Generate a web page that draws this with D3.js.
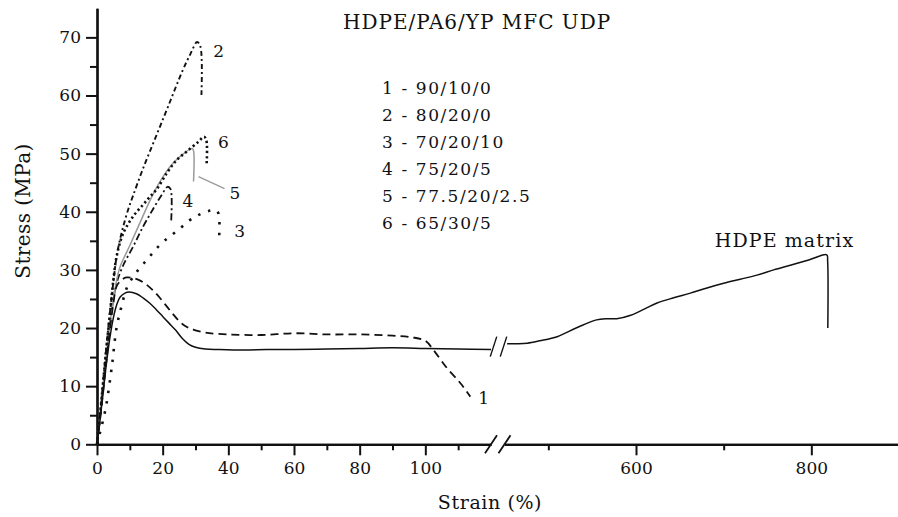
<!DOCTYPE html>
<html>
<head>
<meta charset="utf-8">
<script src="https://cdn.jsdelivr.net/npm/d3@7"></script>
<style>
  body { margin: 0; background: #fff; }
  svg { display: block; font-family: "DejaVu Serif", serif; }
</style>
</head>
<body>
<svg id="chart" width="898" height="517"></svg>
<script>
// Stress–strain curves, each point is [strain %, stress MPa]
const hdpeMatrixLow = [[0,0],[1,4.6],[2,9.6],[3,14.5],[4,18.6],[5,21.8],[6,24],[7,25.3],[8.5,26],[9.8,26.2],[12,25.9],[14,25.2],[16,24.3],[18,23.2],[20,22],[22,20.8],[24,19.6],[26,18.2],[28,17.2],[30,16.7],[33,16.4],[37,16.3],[45,16.2],[51.7,16.3],[60,16.3],[70,16.4],[80,16.5],[90,16.6],[100,16.5],[110,16.4],[120,16.3]];
const hdpeMatrixHigh = [[453,17.3],[465,17.3],[476,17.4],[490,17.8],[510,18.5],[533,20.1],[555,21.4],[567,21.6],[578,21.6],[594,22.2],[610,23.3],[624,24.3],[643,25.2],[662,26.0],[681,26.9],[700,27.7],[719,28.4],[738,29.1],[757,30.0],[776,30.8],[797,31.7],[817.6,32.6],[818.6,31.5],[818.8,20.0]];
const curve1 = [[0,0],[1,4.6],[2,9.7],[3,15],[4,20],[5,24.3],[6,27.2],[7.5,28.3],[9,28.7],[11,28.6],[13,28.2],[15,27.5],[17,26.5],[19,25.3],[21,23.9],[23,22.5],[25,21.2],[27,20.3],[29.5,19.7],[33,19.2],[40,18.9],[50,18.8],[60,19.1],[70,18.9],[80,18.9],[90,18.7],[96,18.4],[100,17.8],[102.5,16.2],[106.6,13.1],[110.7,10.5],[113.7,8.2]];
const curve2 = [[0,0],[1,5.6],[2,11.6],[3,17.6],[4,23],[5,28],[6,32.4],[7,35.2],[8,37.5],[9.5,40.4],[11,42.8],[14,47.4],[18,53],[22,58.6],[26,64.2],[28.5,67.2],[30.5,69.2],[31.5,68.4],[31.8,60]];
const curve3 = [[0,0],[1,2.2],[2,4.5],[2.9,7],[4.5,13.3],[6,20.2],[7.5,23.8],[9,26.8],[11,28.8],[13,30.3],[15.6,32],[17.7,33.4],[20.7,35.1],[24.8,36.9],[28.4,38.6],[31.5,39.6],[34.5,40.2],[36,40.3],[37,39.7],[37.2,35.7]];
const curve4 = [[0,0],[1,5],[2,10.5],[3,16],[4,21],[5,25],[6,27.8],[8,30.8],[11,34],[14,37.4],[17,40.4],[19.7,42.9],[21.5,44.3],[22.4,43.9],[22.6,38.5]];
const curve5 = [[0,0],[1,5],[2,10.5],[3,16],[4,21],[5,25],[6,28.3],[7,30.5],[10,34.2],[13,38],[16.2,42],[19,45],[22.3,47.8],[25.3,49.5],[29,50.9],[29.4,50.5],[29.4,45.2]];
const curve6 = [[0,0],[1,5.5],[2,11.5],[3,17.3],[4,22.8],[5,28.3],[6,32.4],[8,36.3],[11,39.2],[14,41.2],[16,42.5],[18.2,43.9],[21.2,46.6],[24.3,48.9],[27.4,50.4],[30.8,52],[32.6,52.9],[33.3,52.3],[33.4,48.3]];

// Axis ticks
const stressTicks = [0, 10, 20, 30, 40, 50, 60, 70];
const stressMinorTicks = [5, 15, 25, 35, 45, 55, 65];
const strainTicksLow = [0, 20, 40, 60, 80, 100];
const strainMinorLow = [10, 30, 50, 70, 90, 110];
const strainTicksHigh = [600, 800];
const strainMinorHigh = [500, 700];

// Text
const chartTitle = "HDPE/PA6/YP MFC UDP";
const legendLines = ["1 - 90/10/0", "2 - 80/20/0", "3 - 70/20/10", "4 - 75/20/5", "5 - 77.5/20/2.5", "6 - 65/30/5"];
const curveNames = ["1", "2", "3", "4", "5", "6"];
const matrixName = "HDPE matrix";
const xTitle = "Strain (%)";
const yTitle = "Stress (MPa)";

const svg = d3.select("#chart");
const FS = 17;

// Broken strain axis: two linear pieces
const xLow = d3.scaleLinear().domain([0, 120]).range([97, 491]);
const xHigh = d3.scaleLinear().domain([450, 900]).range([504.5, 899]);
const y = d3.scaleLinear().domain([0, 75]).range([444.3, 8.3]);

const ink = "#111";

function styleAxis(g, w) {
  g.attr("font-family", null).attr("font-size", null);
  g.select(".domain").attr("stroke", ink).attr("stroke-width", w);
  g.selectAll(".tick line").attr("stroke", ink).attr("stroke-width", 2);
  g.selectAll(".tick text").attr("fill", ink).style("font-family", "DejaVu Serif").style("font-size", FS + "px");
}

// Stress axis
const yMinor = svg.append("g").attr("transform", "translate(97,0)")
  .call(d3.axisLeft(y).tickValues(stressMinorTicks).tickSize(7).tickSizeOuter(0).tickFormat(""));
styleAxis(yMinor, 2.2);
const yMajor = svg.append("g").attr("transform", "translate(97,0)")
  .call(d3.axisLeft(y).tickValues(stressTicks).tickSize(11).tickSizeOuter(0).tickPadding(5));
styleAxis(yMajor, 2.2);

// Strain axis, both pieces
const x0 = y(0);
[[xLow, strainMinorLow, strainTicksLow], [xHigh, strainMinorHigh, strainTicksHigh]].forEach(([sc, minor, major]) => {
  const gm = svg.append("g").attr("transform", `translate(0,${x0})`)
    .call(d3.axisBottom(sc).tickValues(minor).tickSize(6).tickSizeOuter(0).tickFormat(""));
  styleAxis(gm, 2.2);
  const gM = svg.append("g").attr("transform", `translate(0,${x0})`)
    .call(d3.axisBottom(sc).tickValues(major).tickSize(11).tickSizeOuter(0).tickPadding(7).tickFormat(d3.format("d")));
  styleAxis(gM, 2.2);
});

// Break marks on the strain axis
function slashes(cx, cy, h, w, sw) {
  svg.append("line").attr("x1", cx - w / 2).attr("y1", cy + h / 2).attr("x2", cx + w / 2).attr("y2", cy - h / 2)
    .attr("stroke", ink).attr("stroke-width", sw);
}
slashes(xLow.range()[1], x0, 18, 12, 1.8);
slashes(xHigh.range()[0], x0, 18, 12, 1.8);
// Break marks on the matrix curve
const breakY = (y(hdpeMatrixLow[hdpeMatrixLow.length - 1][1]) + y(hdpeMatrixHigh[0][1])) / 2;
slashes(xLow.range()[1] + 2.5, breakY, 20, 6.5, 1.4);
slashes(xHigh.range()[0] - 1, breakY, 20, 6.5, 1.4);

// Curves
const lineLow = d3.line().x(d => xLow(d[0])).y(d => y(d[1])).curve(d3.curveCatmullRom.alpha(0.5));
const lineHigh = d3.line().x(d => xHigh(d[0])).y(d => y(d[1])).curve(d3.curveCatmullRom.alpha(0.5));

const series = [
  { data: curve3, dash: "2.5,8", w: 2.6, color: ink },
  { data: curve4, dash: "7,3,2,3", w: 1.8, color: ink },
  { data: curve5, dash: null, w: 1.5, color: "#9a9a9a" },
  { data: curve6, dash: "2.2,2.8", w: 2.6, color: ink },
  { data: curve2, dash: "5,3,2,3", w: 1.9, color: ink },
  { data: curve1, dash: "8,5", w: 1.8, color: ink },
];
series.forEach(s => {
  svg.append("path").attr("d", lineLow(s.data)).attr("fill", "none")
    .attr("stroke", s.color).attr("stroke-width", s.w)
    .attr("stroke-dasharray", s.dash).attr("stroke-linecap", "butt");
});
svg.append("path").attr("d", lineLow(hdpeMatrixLow)).attr("fill", "none").attr("stroke", ink).attr("stroke-width", 1.5);
svg.append("path").attr("d", lineHigh(hdpeMatrixHigh)).attr("fill", "none").attr("stroke", ink).attr("stroke-width", 1.5);

// Text helper
function label(x, yy, txt, size, anchor, spacing) {
  return svg.append("text").attr("x", x).attr("y", yy).attr("fill", ink)
    .attr("text-anchor", anchor || "start")
    .style("font-size", (size || FS) + "px")
    .style("letter-spacing", (spacing || 0) + "px")
    .text(txt);
}

// Curve labels, placed next to each curve's end
const pt = (arr, i) => { const d = arr[i < 0 ? arr.length + i : i]; return [xLow(d[0]), y(d[1])]; };
let p = pt(curve1, -1); label(p[0] + 8, p[1] + 7, curveNames[0]);
p = pt(curve2, 16); label(p[0] + 16, p[1] + 15, curveNames[1]);
p = pt(curve3, -1); label(p[0] + 15, p[1] + 0, curveNames[2]);
p = pt(curve4, 12); label(p[0] + 15, p[1] + 20, curveNames[3]);
p = pt(curve5, -1);
svg.append("line").attr("x1", p[0] + 5).attr("y1", p[1] - 5).attr("x2", p[0] + 31).attr("y2", p[1] + 7)
  .attr("stroke", "#9a9a9a").attr("stroke-width", 1.3);
label(p[0] + 36, p[1] + 17, curveNames[4]);
p = pt(curve6, 16); label(p[0] + 14, p[1] + 11, curveNames[5]);

const mp = hdpeMatrixHigh[hdpeMatrixHigh.length - 3];
label(xHigh(mp[0]) - 112, y(mp[1]) - 8, matrixName, 19, "start", 1.1);

// Title and composition key
label(343, 29, chartTitle, 20, "start", 1);
legendLines.forEach((t, i) => label(382, 94 + i * 27, t, FS, "start", 1.6));

// Axis titles
label(490, 509, xTitle, 19, "middle", 0.6);
svg.append("text").attr("transform", "translate(30,211) rotate(-90)")
  .attr("text-anchor", "middle").attr("fill", ink)
  .style("font-size", "20px").style("letter-spacing", "0.4px").text(yTitle);
</script>
</body>
</html>
